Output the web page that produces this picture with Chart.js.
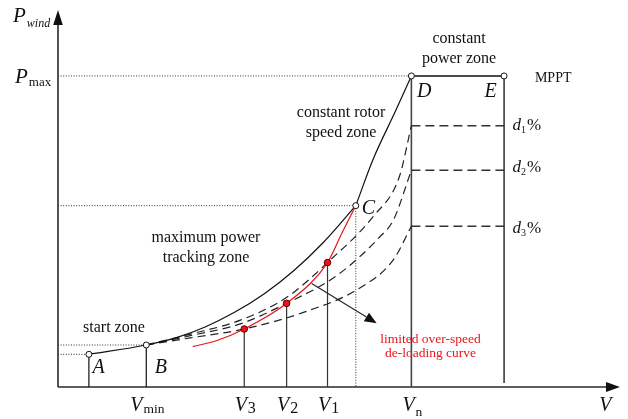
<!DOCTYPE html>
<html>
<head>
<meta charset="utf-8">
<script src="https://cdn.jsdelivr.net/npm/chart.js@4.4.1/dist/chart.umd.min.js"></script>
<style>
  html, body { margin: 0; padding: 0; background: #fff; }
  #wrap { width: 628px; height: 419px; position: relative; }
</style>
</head>
<body>
<div id="wrap"><canvas id="chart"></canvas></div>
<script>
// Wind speed in m/s, power in per-unit of Pmax.

// Characteristic operating points
const pointNames  = ['A', 'B', 'C', 'D', 'E'];
const pointSpeeds = [1.05, 3.0, 10.12, 12.01, 15.16];
const pointPowers = [0.105, 0.135, 0.583, 1.0, 1.0];

// Maximum power tracking curve, A -> B -> C
const mpptSpeeds = [1.05, 3.0, 4.0, 5.0, 6.0, 7.0, 8.0, 9.0, 10.12];
const mpptPowers = [0.105, 0.135, 0.158, 0.193, 0.240, 0.299, 0.373, 0.463, 0.583];

// Constant rotor speed curve, C -> D
const rotorSpeeds = [10.12, 10.70, 11.49, 12.01];
const rotorPowers = [0.583, 0.730, 0.891, 1.0];

// De-loaded power curves (d1 %, d2 %, d3 %)
const deload1Speeds = [3.0, 4.5, 6.2, 7.8, 9.16, 10.71, 11.6, 12.01];
const deload1Powers = [0.135, 0.170, 0.215, 0.290, 0.400, 0.548, 0.676, 0.840];
const deload2Speeds = [3.0, 4.5, 6.2, 7.77, 9.5, 10.94, 11.4, 12.01];
const deload2Powers = [0.135, 0.165, 0.203, 0.269, 0.360, 0.483, 0.537, 0.697];
const deload3Speeds = [3.0, 4.5, 6.33, 8.5, 10.2, 11.39, 12.01];
const deload3Powers = [0.135, 0.158, 0.1865, 0.245, 0.315, 0.408, 0.517];

// De-loaded levels above rated speed
const deloadLevels = [0.840, 0.697, 0.517];
const deloadNames  = ['1', '2', '3'];

// Limited over-speed de-loading curve
const limitSpeeds = [4.58, 5.40, 6.33, 7.77, 9.16, 9.65, 10.12];
const limitPowers = [0.1296, 0.1495, 0.1865, 0.269, 0.400, 0.495, 0.583];

// Operating points on the limited over-speed curve (V3, V2, V1)
const markNames  = ['3', '2', '1'];
const markSpeeds = [6.33, 7.77, 9.16];
const markPowers = [0.1865, 0.269, 0.400];

// Speed tick labels
const speedTickMain = ['V', 'V', 'V', 'V', 'V'];
const speedTickSub  = ['min', '3', '2', '1', 'n'];
const speedTickVals = [3.0, 6.33, 7.77, 9.16, 12.01];

// Arrow pointing at the limited over-speed curve label
const arrowSpeeds = [8.62, 10.83];
const arrowPowers = [0.333, 0.205];

const SERIF = '"Liberation Serif", "Times New Roman", serif';
const INK = '#111';

function pts(xs, ys) { return xs.map((x, i) => ({ x: x, y: ys[i] })); }

function curve(xs, ys, extra) {
  return Object.assign({
    data: pts(xs, ys), showLine: true, pointRadius: 0, borderWidth: 1.1,
    borderColor: INK, fill: false, clip: false, cubicInterpolationMode: 'monotone'
  }, extra || {});
}
function seg(x0, y0, x1, y1, extra) {
  return Object.assign({
    data: [{ x: x0, y: y0 }, { x: x1, y: y1 }], showLine: true, pointRadius: 0,
    borderWidth: 1.2, borderColor: INK, fill: false, clip: false, tension: 0
  }, extra || {});
}

const dotted = { borderDash: [1, 1.6], borderWidth: 1, borderColor: '#333' };
const dashedCurve = { borderDash: [8, 5], borderWidth: 1.2, borderColor: '#222' };
const dashedLevel = { borderDash: [9, 5], borderWidth: 1.6, borderColor: '#333' };

const datasets = [];

// markers first so they sit on top
datasets.push({
  data: pts(markSpeeds, markPowers), showLine: false, pointRadius: 3.3,
  pointBackgroundColor: '#e8141b', pointBorderColor: '#5a0000', pointBorderWidth: 1, clip: false
});
datasets.push({
  data: pts(pointSpeeds, pointPowers), showLine: false, pointRadius: 3,
  pointBackgroundColor: '#fff', pointBorderColor: INK, pointBorderWidth: 1, clip: false
});

// curves
datasets.push(curve(limitSpeeds, limitPowers, { borderColor: '#e8141b', borderWidth: 1.2 }));
datasets.push(curve(mpptSpeeds, mpptPowers, { borderWidth: 1.2 }));
datasets.push(curve(rotorSpeeds, rotorPowers, { borderWidth: 1.2 }));
datasets.push(curve(deload1Speeds, deload1Powers, dashedCurve));
datasets.push(curve(deload2Speeds, deload2Powers, dashedCurve));
datasets.push(curve(deload3Speeds, deload3Powers, dashedCurve));

// constant power zone D -> E
datasets.push(seg(pointSpeeds[3], pointPowers[3], pointSpeeds[4], pointPowers[4], { borderWidth: 1.6 }));
// de-loaded levels between rated speed and E
deloadLevels.forEach(l => datasets.push(seg(pointSpeeds[3], l, pointSpeeds[4], l, dashedLevel)));

// vertical drop lines
datasets.push(seg(pointSpeeds[0], pointPowers[0], pointSpeeds[0], 0));
datasets.push(seg(pointSpeeds[1], pointPowers[1], pointSpeeds[1], 0));
datasets.push(seg(pointSpeeds[3], pointPowers[3], pointSpeeds[3], 0, { borderColor: '#444', borderWidth: 1.6 }));
datasets.push(seg(pointSpeeds[4], pointPowers[4], pointSpeeds[4], 0.013, { borderWidth: 1.3 }));
markSpeeds.forEach((s, i) => datasets.push(seg(s, markPowers[i], s, 0, { borderColor: '#333' })));
datasets.push(seg(pointSpeeds[2], pointPowers[2], pointSpeeds[2], 0, dotted));

// dotted guides to the power axis
datasets.push(seg(0, pointPowers[3], pointSpeeds[3], pointPowers[3], dotted));
datasets.push(seg(0, pointPowers[2], pointSpeeds[2], pointPowers[2], dotted));
datasets.push(seg(0, pointPowers[1], pointSpeeds[1], pointPowers[1], dotted));
datasets.push(seg(0, pointPowers[0], pointSpeeds[0], pointPowers[0], dotted));

// ---- drawing helpers for axes and text ----
function font(size, italic) { return (italic ? 'italic ' : '') + size + 'px ' + SERIF; }

function textAt(ctx, s, x, y, f, color, align) {
  ctx.font = f; ctx.fillStyle = color || INK; ctx.textAlign = align || 'left';
  ctx.textBaseline = 'alphabetic'; ctx.fillText(s, x, y);
}
// main glyph followed by a subscript; align 'center' centres the pair on x
function subText(ctx, main, sub, x, y, mainF, subF, subDy, align, subGap) {
  ctx.font = mainF; const wm = ctx.measureText(main).width;
  ctx.font = subF; const ws = ctx.measureText(sub).width;
  const gap = subGap || 1;
  let x0 = x;
  if (align === 'center') x0 = x - (wm + gap + ws) / 2;
  textAt(ctx, main, x0, y, mainF);
  textAt(ctx, sub, x0 + wm + gap, y + subDy, subF);
}

const decorations = {
  id: 'decorations',
  beforeDatasetsDraw(chart) {
    const ctx = chart.ctx, xs = chart.scales.x, ys = chart.scales.y;
    const ox = xs.getPixelForValue(0), oy = ys.getPixelForValue(0);
    const tx = xs.getPixelForValue(xs.max), ty = ys.getPixelForValue(ys.max);
    ctx.save();
    ctx.strokeStyle = '#2a2a2a'; ctx.fillStyle = '#111'; ctx.lineWidth = 1.6;
    ctx.beginPath(); ctx.moveTo(ox, oy); ctx.lineTo(ox, ty + 12); ctx.stroke();
    ctx.beginPath(); ctx.moveTo(ox, oy); ctx.lineTo(tx - 12, oy); ctx.stroke();
    // arrow heads
    ctx.beginPath(); ctx.moveTo(ox, ty); ctx.lineTo(ox - 4.8, ty + 15); ctx.lineTo(ox + 4.8, ty + 15); ctx.closePath(); ctx.fill();
    ctx.beginPath(); ctx.moveTo(tx, oy); ctx.lineTo(tx - 14, oy - 5); ctx.lineTo(tx - 14, oy + 5); ctx.closePath(); ctx.fill();
    ctx.restore();
  },
  afterDraw(chart) {
    const ctx = chart.ctx, xs = chart.scales.x, ys = chart.scales.y;
    const X = v => xs.getPixelForValue(v), Y = v => ys.getPixelForValue(v);
    const ox = X(0);
    ctx.save();

    // power axis labels
    subText(ctx, 'P', 'wind', ox - 45, Y(ys.max) + 12, font(21, true), font(12, true), 5, 'left', 1);
    subText(ctx, 'P', 'max', ox - 43, Y(pointPowers[3]) + 7, font(21, true), font(13, false), 3, 'left', 1);

    // speed axis labels
    speedTickVals.forEach((v, i) => {
      const s = speedTickSub[i];
      const isDigit = /\d/.test(s);
      subText(ctx, speedTickMain[i], s, X(v) + 1, Y(0) + 24, font(20, true),
              font(isDigit ? 16 : 13.5, false), s === 'n' ? 5 : 2, 'center', 1);
    });
    textAt(ctx, 'V', X(18.6), Y(0) + 24, font(20, true), INK, 'center');

    // operating point letters
    const letterOffsets = [[3.5, 19], [8.5, 28], [6, 8.5], [5.5, 21.5], [-19.5, 21.5]];
    pointNames.forEach((n, i) => {
      textAt(ctx, n, X(pointSpeeds[i]) + letterOffsets[i][0], Y(pointPowers[i]) + letterOffsets[i][1], font(20, true));
    });

    // de-loading percentages
    const levelDy = [4.5, 1.5, 7];
    deloadLevels.forEach((l, i) => {
      const x0 = X(pointSpeeds[4]) + 8.5, y0 = Y(l) + levelDy[i];
      ctx.font = font(17, true); const wd = ctx.measureText('d').width;
      textAt(ctx, 'd', x0, y0, font(17, true));
      textAt(ctx, deloadNames[i], x0 + wd, y0 + 3, font(10, false));
      textAt(ctx, '%', x0 + wd + 6, y0, font(17, false));
    });

    // zone names
    const f16 = font(16, false);
    textAt(ctx, 'constant', X(13.63), Y(1.107), f16, INK, 'center');
    textAt(ctx, 'power zone', X(13.63), Y(1.041), f16, INK, 'center');
    textAt(ctx, 'MPPT', X(16.83), Y(0.982), font(14, false), INK, 'center');
    textAt(ctx, 'constant rotor', X(9.62), Y(0.869), f16, INK, 'center');
    textAt(ctx, 'speed zone', X(9.62), Y(0.805), f16, INK, 'center');
    textAt(ctx, 'maximum power', X(5.03), Y(0.467), f16, INK, 'center');
    textAt(ctx, 'tracking zone', X(5.03), Y(0.403), f16, INK, 'center');
    textAt(ctx, 'start zone', X(1.90), Y(0.178), f16, INK, 'center');
    textAt(ctx, 'limited over-speed', X(12.66), Y(0.142), font(13.5, false), '#e8141b', 'center');
    textAt(ctx, 'de-loading curve', X(12.66), Y(0.0955), font(13.5, false), '#e8141b', 'center');

    // arrow to the curve label
    const ax0 = X(arrowSpeeds[0]), ay0 = Y(arrowPowers[0]);
    const ax1 = X(arrowSpeeds[1]), ay1 = Y(arrowPowers[1]);
    const ang = Math.atan2(ay1 - ay0, ax1 - ax0), hl = 12, hw = 5;
    const bx = ax1 - hl * Math.cos(ang), by = ay1 - hl * Math.sin(ang);
    ctx.strokeStyle = '#222'; ctx.fillStyle = '#111'; ctx.lineWidth = 1.1;
    ctx.beginPath(); ctx.moveTo(ax0, ay0); ctx.lineTo(bx, by); ctx.stroke();
    ctx.beginPath(); ctx.moveTo(ax1, ay1);
    ctx.lineTo(bx + hw * Math.sin(ang), by - hw * Math.cos(ang));
    ctx.lineTo(bx - hw * Math.sin(ang), by + hw * Math.cos(ang));
    ctx.closePath(); ctx.fill();

    ctx.restore();
  }
};

new Chart(document.getElementById('chart'), {
  type: 'line',
  data: { datasets: datasets },
  options: {
    responsive: true,
    maintainAspectRatio: false,
    animation: false,
    events: [],
    layout: { padding: { left: 58, right: 8, top: 10, bottom: 32 } },
    scales: {
      x: { type: 'linear', min: 0, max: 19.1, display: false },
      y: { type: 'linear', min: 0, max: 1.212, display: false }
    },
    plugins: { legend: { display: false }, tooltip: { enabled: false } }
  },
  plugins: [decorations]
});
</script>
</body>
</html>
